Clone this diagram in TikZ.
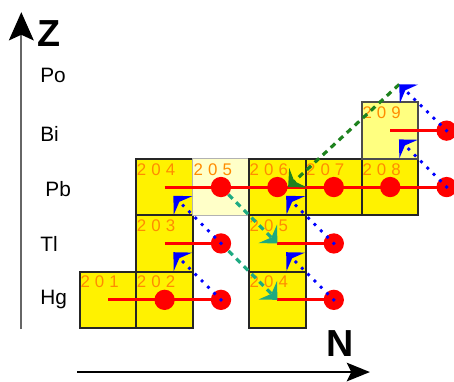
\documentclass[tikz,border=0pt]{standalone}
\usepackage{fontspec}
\setmainfont{Liberation Sans}
\newfontfamily\numfont[LetterSpace=30]{Liberation Sans}
\usetikzlibrary{arrows.meta}

\definecolor{numorange}{RGB}{255,140,0}
\definecolor{ecteal}{RGB}{30,170,130}
\definecolor{alphagreen}{RGB}{30,130,30}
\definecolor{paleyellow}{RGB}{255,255,200}
\definecolor{lightyellow}{RGB}{255,255,128}

\begin{document}
\begin{tikzpicture}[
  font=\fontsize{10.5}{12}\selectfont,
  nuc/.style={
    draw=black!85, line width=1pt, fill=yellow,
    minimum size=1cm, inner sep=0pt
  },
  nucpale/.style={nuc, draw=black!30, line width=0.6pt, fill=paleyellow},
  nuclight/.style={nuc, draw=black!70, fill=lightyellow},
  num/.style={
    anchor=north west, inner sep=0pt, xshift=0.02cm, yshift=-0.09cm,
    font=\numfont\fontsize{8.5}{9}\selectfont, text=numorange
  },
  capt/.style={circle, fill=red, minimum size=0.36cm, inner sep=0pt},
  ncap/.style={draw=red, line width=1.5pt},
  beta/.style={
    draw=blue, line width=2pt, line cap=round, dash pattern=on 0pt off 4.5pt,
    shorten >=0.22cm, -{Stealth[length=2.4mm, width=4.6mm, inset=0.9mm]}
  },
  ec/.style={
    draw=ecteal, line width=1.6pt, dash pattern=on 3pt off 2.5pt,
    -{Stealth[length=2.4mm, width=4.6mm, inset=0.9mm]}
  },
  alpha/.style={
    draw=alphagreen, line width=1.6pt, dash pattern=on 3pt off 2.5pt,
    -{Stealth[length=2.4mm, width=4.6mm, inset=0.9mm]}
  },
  elem/.style={anchor=west, inner sep=0pt},
  axlabel/.style={font=\bfseries\fontsize{19}{22}\selectfont, inner sep=0pt},
  zaxis/.style={
    draw=black!60, line width=1pt,
    -{Stealth[length=5mm, width=4.4mm, inset=1mm, black]}
  },
  naxis/.style={
    draw=black, line width=1pt,
    -{Stealth[length=4.1mm, width=3.3mm, inset=0.8mm]}
  },
]
\useasboundingbox (-1.418,-0.940) rectangle (6.631,5.816);

% axes
\coordinate (zbot) at (-1.04,-0.02);
\coordinate (ztop) at (-1.04,5.6);
\coordinate (nleft) at (-0.05,-0.78);
\coordinate (nright) at (5.14,-0.78);
\draw[zaxis] (zbot) -- (ztop);
\draw[naxis] (nleft) -- (nright);
\node[axlabel] (zlbl) at (-0.55,5.23) {Z};
\node[axlabel] (nlbl) at (4.61,-0.28) {N};

% element names
\node[elem] (po) at (-0.71,4.47) {Po};
\node[elem] (bi) at (-0.71,3.44) {Bi};
\node[elem] (pb) at (-0.62,2.46) {Pb};
\node[elem] (tl) at (-0.71,1.49) {Tl};
\node[elem] (hg) at (-0.71,0.50) {Hg};

% nuclides
\node[nuc, label={[num]north west:201}] (hg201) at (0.5,0.5) {};
\node[nuc, label={[num]north west:202}] (hg202) at (1.5,0.5) {};
\node[nuc, label={[num]north west:204}] (hg204) at (3.5,0.5) {};
\node[nuc, label={[num]north west:203}] (tl203) at (1.5,1.5) {};
\node[nuc, label={[num]north west:205}] (tl205) at (3.5,1.5) {};
\node[nuc, label={[num]north west:204}] (pb204) at (1.5,2.5) {};
\node[nucpale, label={[num]north west:205}] (pb205) at (2.5,2.5) {};
\node[nuc, label={[num]north west:206}] (pb206) at (3.5,2.5) {};
\node[nuc, label={[num]north west:207}] (pb207) at (4.5,2.5) {};
\node[nuc, label={[num]north west:208}] (pb208) at (5.5,2.5) {};
\node[nuclight, label={[num]north west:209}] (bi209) at (5.5,3.5) {};

% neutron captures
\node[capt] (hg202n) at (1.5,0.5) {};
\node[capt] (hg203n) at (2.5,0.5) {};
\node[capt] (hg205n) at (4.5,0.5) {};
\node[capt] (tl204n) at (2.5,1.5) {};
\node[capt] (tl206n) at (4.5,1.5) {};
\node[capt] (pb205n) at (2.5,2.5) {};
\node[capt] (pb206n) at (3.5,2.5) {};
\node[capt] (pb207n) at (4.5,2.5) {};
\node[capt] (pb208n) at (5.5,2.5) {};
\node[capt] (pb209n) at (6.5,2.5) {};
\node[capt] (bi210n) at (6.5,3.5) {};
\coordinate (po210) at (5.66,4.32);

\draw[ncap] (hg201.center) -- (hg203n.center);
\draw[ncap] (hg204.center) -- (hg205n.center);
\draw[ncap] (tl203.center) -- (tl204n.center);
\draw[ncap] (tl205.center) -- (tl206n.center);
\draw[ncap] (pb204.center) -- (pb209n.center);
\draw[ncap] (bi209.center) -- (bi210n.center);

% electron capture and alpha
\draw[ec] (pb205n) -- (tl205.center);
\draw[ec] (tl204n) -- (hg204.center);
\draw[alpha] (po210) -- ([xshift=0.19cm]pb206.center);

% beta decays
\draw[beta] (hg203n.center) -- (tl203.center);
\draw[beta] (tl204n.center) -- (pb204.center);
\draw[beta] (hg205n.center) -- (tl205.center);
\draw[beta] (tl206n.center) -- (pb206.center);
\draw[beta] (pb209n.center) -- (bi209.center);
\draw[beta, shorten >=0pt] (bi210n.center) -- (po210);

\end{tikzpicture}
\end{document}
